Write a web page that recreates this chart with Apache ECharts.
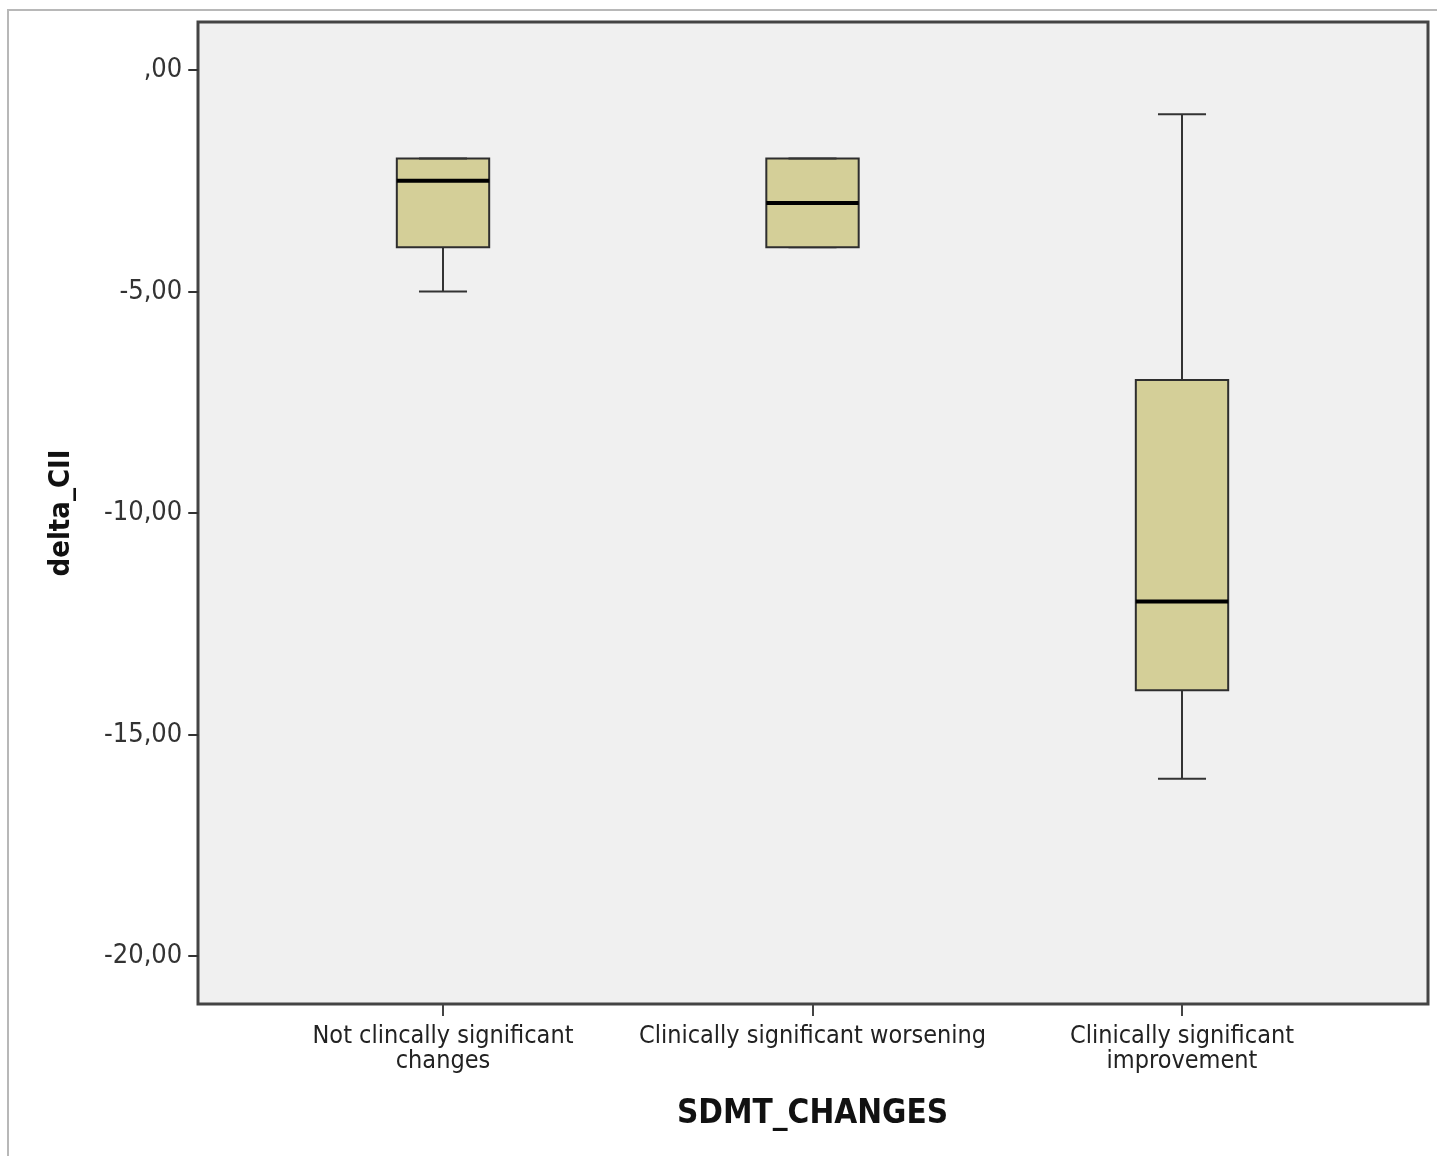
<!DOCTYPE html>
<html>
<head>
<meta charset="utf-8">
<script src="https://cdn.jsdelivr.net/npm/echarts@6/dist/echarts.min.js"></script>
<style>
  html, body { margin: 0; padding: 0; background: #fff; }
  #main { width: 1437px; height: 1156px; }
</style>
</head>
<body>
<div id="main"></div>
<script>
// categories and box statistics
var categories = ['Not clincally significant\nchanges', 'Clinically significant worsening', 'Clinically significant\nimprovement'];
var lowerWhisker = [-5, -4, -16];
var q1 = [-4, -4, -14];
var median = [-2.5, -3, -12];
var q3 = [-2, -2, -7];
var upperWhisker = [-2, -2, -1];

var myChart = echarts.init(document.getElementById('main'));

var boxData = categories.map(function (c, i) {
  return [i, lowerWhisker[i], q1[i], median[i], q3[i], upperWhisker[i]];
});

function renderBox(params, api) {
  var x = api.value(0);
  var lo = api.coord([x, api.value(1)]);
  var b1 = api.coord([x, api.value(2)]);
  var md = api.coord([x, api.value(3)]);
  var b3 = api.coord([x, api.value(4)]);
  var hi = api.coord([x, api.value(5)]);
  var band = api.size([1, 0])[0];
  var bw = band * 0.25;
  var cw = band * 0.13;
  var cx = lo[0];
  var line = { stroke: '#333', lineWidth: 2 };
  return {
    type: 'group',
    children: [
      { type: 'line', shape: { x1: cx, y1: lo[1], x2: cx, y2: b1[1] }, style: line },
      { type: 'line', shape: { x1: cx, y1: hi[1], x2: cx, y2: b3[1] }, style: line },
      { type: 'line', shape: { x1: cx - cw / 2, y1: lo[1], x2: cx + cw / 2, y2: lo[1] }, style: line },
      { type: 'rect', shape: { x: cx - bw / 2, y: b3[1], width: bw, height: b1[1] - b3[1] },
        style: { fill: '#d4cf98', stroke: '#2e2e2e', lineWidth: 2 } },
      { type: 'line', shape: { x1: cx - cw / 2, y1: hi[1], x2: cx + cw / 2, y2: hi[1] }, style: line },
      { type: 'line', shape: { x1: cx - bw / 2, y1: md[1], x2: cx + bw / 2, y2: md[1] },
        style: { stroke: '#000', lineWidth: 4 } }
    ]
  };
}

var condensed = "'DejaVu Sans Condensed', 'Liberation Sans Narrow', sans-serif";

var option = {
  backgroundColor: '#fff',
  animation: false,
  graphic: [
    { type: 'rect', z: -20, shape: { x: 8, y: 10, width: 1500, height: 1200 },
      style: { fill: '#fff', stroke: '#b8b8b8', lineWidth: 2 } },
    { type: 'rect', z: -10, shape: { x: 198, y: 22, width: 1230, height: 982 },
      style: { fill: '#f0f0f0', stroke: '#444', lineWidth: 3 } }
  ],
  grid: { left: 258.25, right: 70.25, top: 70, bottom: 200 },
  xAxis: {
    type: 'category',
    position: 'bottom',
    data: categories,
    boundaryGap: true,
    offset: 48,
    axisLine: { show: false, onZero: false },
    axisTick: { show: true, interval: 0, alignWithLabel: true, length: 12, lineStyle: { color: '#444', width: 2 } },
    axisLabel: {
      interval: 0, margin: 20, fontSize: 25, lineHeight: 25, color: '#222',
      fontFamily: condensed
    },
    name: 'SDMT_CHANGES',
    nameLocation: 'middle',
    nameGap: 94,
    nameTextStyle: {
      fontSize: 33, fontWeight: 'bold', color: '#111',
      fontFamily: condensed
    }
  },
  yAxis: {
    type: 'value',
    min: -20,
    max: 0,
    interval: 5,
    offset: 60,
    axisLine: { show: false, onZero: false },
    splitLine: { show: false },
    axisTick: { show: true, length: 10, lineStyle: { color: '#333', width: 2 } },
    axisLabel: {
      margin: 16, fontSize: 27, color: '#333', fontFamily: condensed,
      formatter: function (v) { return v === 0 ? ',00' : v.toFixed(2).replace('.', ','); }
    },
    name: 'delta_CII',
    nameLocation: 'middle',
    nameGap: 122,
    nameRotate: 90,
    nameTextStyle: { fontSize: 29, fontWeight: 'bold', color: '#111', fontFamily: condensed }
  },
  series: [{
    type: 'custom',
    renderItem: renderBox,
    data: boxData,
    encode: { x: 0, y: [1, 2, 3, 4, 5] },
    clip: false
  }]
};

myChart.setOption(option);
</script>
</body>
</html>
